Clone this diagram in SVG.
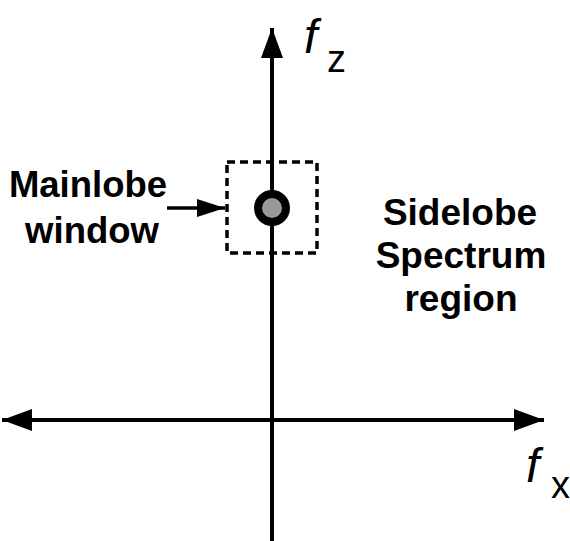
<svg xmlns="http://www.w3.org/2000/svg" width="570" height="541" viewBox="0 0 570 541">
<style>
.ax{stroke:#000;stroke-width:4;fill:none}
.lbl{font-family:"Liberation Sans",Arial,sans-serif;font-weight:bold;font-size:36.5px;fill:#000;text-anchor:middle}
.fi{font-family:"Liberation Sans",Arial,sans-serif;font-style:italic;font-size:48px;fill:#000}
.sub{font-family:"Liberation Sans",Arial,sans-serif;font-size:38px;fill:#000}
</style>
<defs>
<marker id="ah" viewBox="0 0 30 22" refX="30" refY="11" markerWidth="30" markerHeight="22" markerUnits="userSpaceOnUse" orient="auto-start-reverse">
<path d="M0,0 L30,11 L0,22 Z" fill="#000"/>
</marker>
<marker id="sa" viewBox="0 0 28 18" refX="28" refY="9" markerWidth="28" markerHeight="18" markerUnits="userSpaceOnUse" orient="auto">
<path d="M0,0 L28,9 L0,18 Z" fill="#000"/>
</marker>
</defs>
<g id="connectors">
<line class="ax" x1="272" y1="541" x2="272" y2="28" marker-end="url(#ah)"/>
<line class="ax" x1="2" y1="420" x2="544" y2="420" marker-start="url(#ah)" marker-end="url(#ah)"/>
<line x1="167" y1="208" x2="225" y2="208" stroke="#000" stroke-width="3.5" marker-end="url(#sa)"/>
</g>
<g id="mainlobe-window">
<rect x="227" y="162" width="90" height="91" fill="none" stroke="#000" stroke-width="3.5" stroke-dasharray="8 5"/>
</g>
<g id="mainlobe">
<circle cx="272" cy="208" r="14" fill="#999" stroke="#000" stroke-width="8"/>
</g>
<g id="label-mainlobe">
<text class="lbl" x="88" y="197">Mainlobe</text>
<text class="lbl" x="92" y="243">window</text>
</g>
<g id="label-sidelobe">
<text class="lbl" x="460" y="225" style="font-size:37px">Sidelobe</text>
<text class="lbl" x="461" y="268" style="font-size:37px">Spectrum</text>
<text class="lbl" x="461" y="311" style="font-size:37px">region</text>
</g>
<g id="axis-labels">
<text class="fi" x="304" y="53">f</text>
<text class="sub" x="327" y="72">z</text>
<text class="fi" x="526" y="482">f</text>
<text class="sub" x="551" y="498">x</text>
</g>
</svg>
